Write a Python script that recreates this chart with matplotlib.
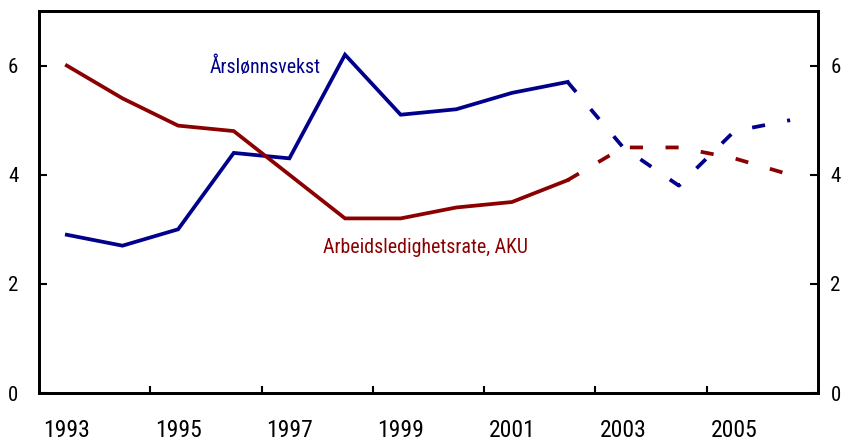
import matplotlib
matplotlib.use('Agg')
import matplotlib.pyplot as plt
from matplotlib import font_manager

years = list(range(1993, 2007))
wage = [2.9, 2.7, 3.0, 4.4, 4.3, 6.2, 5.1, 5.2, 5.5, 5.7, 4.5, 3.8, 4.8, 5.0]
unemp = [6.0, 5.4, 4.9, 4.8, 4.0, 3.2, 3.2, 3.4, 3.5, 3.9, 4.5, 4.5, 4.3, 4.0]
last_actual = 2002  # dashed after this year

blue = '#00008B'
red = '#8B0000'

# narrow font if we have one, else Arial-like
installed = {f.name for f in font_manager.fontManager.ttflist}
narrow = None
for name in ['Liberation Sans Narrow', 'Arial Narrow', 'Roboto Condensed',
             'Open Sans Condensed', 'DejaVu Sans Condensed']:
    if name in installed:
        narrow = name
        break
if narrow:
    plt.rcParams['font.family'] = [narrow, 'DejaVu Sans']
    xsize, ysize, tsize = 17, 15, 14.3
else:
    plt.rcParams['font.family'] = ['Liberation Sans', 'DejaVu Sans']
    xsize, ysize, tsize = 15, 14, 13

x = list(range(len(years)))
cut = years.index(last_actual)

fig = plt.figure(figsize=(8.52, 4.41), dpi=100)
ax = fig.add_axes([0.0458, 0.1088, 0.9142, 0.8662])

lw = 2.7
ax.plot(x[:cut + 1], wage[:cut + 1], color=blue, lw=lw, solid_joinstyle='miter')
ax.plot(x[cut:], wage[cut:], color=blue, lw=lw, dashes=(3.5, 6), dash_capstyle='butt')
ax.plot(x[:cut + 1], unemp[:cut + 1], color=red, lw=lw, solid_joinstyle='miter')
ax.plot(x[cut:], unemp[cut:], color=red, lw=lw, dashes=(3.5, 6), dash_capstyle='butt')

ax.set_xlim(-0.5, len(years) - 0.5)
ax.set_ylim(0, 7)

# year labels at category centres, ticks on boundaries
ax.set_xticks(x[::2])
ax.set_xticklabels([str(y) for y in years[::2]])
ax.set_xticks([i + 0.5 for i in range(1, len(years) - 1, 2)], minor=True)
ax.tick_params(axis='x', which='major', length=0, pad=19, labelsize=xsize)
ax.tick_params(axis='x', which='minor', direction='in', length=5, width=1.5)

ax.set_yticks([0, 2, 4, 6])
ax.tick_params(axis='y', direction='in', length=6, width=1.5, pad=15, labelsize=ysize)

ax2 = ax.twinx()
ax2.set_ylim(0, 7)
ax2.set_yticks([0, 2, 4, 6])
ax2.tick_params(axis='y', direction='in', length=6, width=1.5, pad=9, labelsize=ysize)

for a in (ax, ax2):
    for s in a.spines.values():
        s.set_linewidth(2)

ax.text(2.57, 5.97, 'Årslønnsvekst', color=blue, fontsize=tsize, ha='left', va='center')
ax.text(4.6, 2.67, 'Arbeidsledighetsrate, AKU', color=red, fontsize=tsize, ha='left', va='center')

plt.savefig('out.png', dpi=100)
